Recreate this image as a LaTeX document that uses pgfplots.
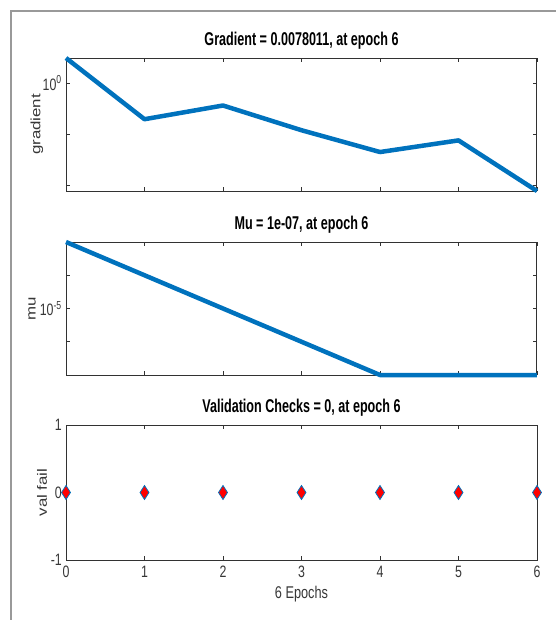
\documentclass[border=0pt]{standalone}
\usepackage{fontspec}
\usepackage{pgfplots}
\pgfplotsset{compat=1.18}
\setmainfont{Liberation Sans}
\newfontfamily\titlefont{Liberation Sans}[FakeStretch=0.68]
\newfontfamily\tickfont{Liberation Sans}[FakeStretch=0.75]
\newfontfamily\labfont{Liberation Sans}[FakeStretch=1.25]
\definecolor{mblue}{RGB}{0,114,189}
\definecolor{axgray}{RGB}{50,50,50}
\definecolor{labgray}{RGB}{55,55,55}
\pgfplotsset{
  mystyle/.style={
    scale only axis, width=471bp, height=133bp,
    anchor=north west, clip=false,
    xmin=0, xmax=6, xtick={0,1,2,3,4,5,6},
    tick align=inside, tick pos=both,
    major tick length=4bp,
    axis line style={axgray, line width=1bp},
    every tick/.style={axgray, line width=0.9bp},
    minor tick num=0, yminorticks=false,
    /pgf/number format/assume math mode=true,
    tick label style={font=\tickfont\fontsize{16.5bp}{18bp}\selectfont, text=labgray, inner sep=0pt},
    xticklabel style={anchor=north, yshift=-6bp},
    yticklabel style={anchor=east, xshift=-4bp},
    title style={font=\titlefont\bfseries\fontsize{18.5bp}{20bp}\selectfont, at={(0.5,1)}, anchor=base, yshift=7bp, inner sep=0pt},
    ylabel style={font=\labfont\fontsize{13.5bp}{15bp}\selectfont, text=labgray, anchor=center, rotate=0},
    xlabel style={font=\tickfont\fontsize{17bp}{19bp}\selectfont, text=labgray, at={(axis description cs:0.5,0)}, anchor=base, yshift=-38bp, inner sep=0pt},
  }
}
\begin{document}
\begin{tikzpicture}
\useasboundingbox (0,0) rectangle (556bp,-620bp);
\draw[gray!80, line width=1.5bp] (11bp,-620bp) -- (11bp,-11bp) -- (556bp,-11bp);

% Gradient
\begin{axis}[mystyle, at={(66bp,-58bp)},
  ymode=log, ymin=0.0078011, ymax=3.09,
  ytick={0.01,0.1,1}, yticklabels={,,10\textsuperscript{0}},
  xticklabels={},
  title={Gradient = 0.0078011, at epoch 6},
  ylabel={gradient},
  ylabel style={at={(axis description cs:-0.0616,0.5)}},
]
\addplot[mblue, line width=4.5bp, line join=round] coordinates {
(0,3.09) (1,0.197) (2,0.365) (3,0.12) (4,0.045) (5,0.076) (6,0.0078011)
};
\end{axis}

% Mu
\begin{axis}[mystyle, at={(66bp,-242bp)},
  ymode=log, ymin=1e-7, ymax=1e-3,
  ytick={1e-6,1e-5,1e-4}, yticklabels={,10\textsuperscript{-5},},
  xticklabels={},
  title={Mu = 1e-07, at epoch 6},
  ylabel={mu},
  ylabel style={at={(axis description cs:-0.072,0.5)}},
]
\addplot[mblue, line width=4.5bp, line join=round] coordinates {
(0,1e-3) (1,1e-4) (2,1e-5) (3,1e-6) (4,1e-7) (5,1e-7) (6,1e-7)
};
\end{axis}

% Validation checks
\begin{axis}[mystyle, at={(66bp,-425bp)}, height=135bp,
  ymin=-1, ymax=1, ytick={-1,0,1},
  title={Validation Checks = 0, at epoch 6},
  ylabel={val fail},
  ylabel style={at={(axis description cs:-0.051,0.5)}},
  xlabel={6 Epochs},
]
\addplot[only marks, mark=diamond*, mark size=7bp,
  mark options={fill=red, draw=mblue, line width=0.8bp, xscale=0.85}] coordinates {
(0,0) (1,0) (2,0) (3,0) (4,0) (5,0) (6,0)
};
\end{axis}
\end{tikzpicture}
\end{document}
